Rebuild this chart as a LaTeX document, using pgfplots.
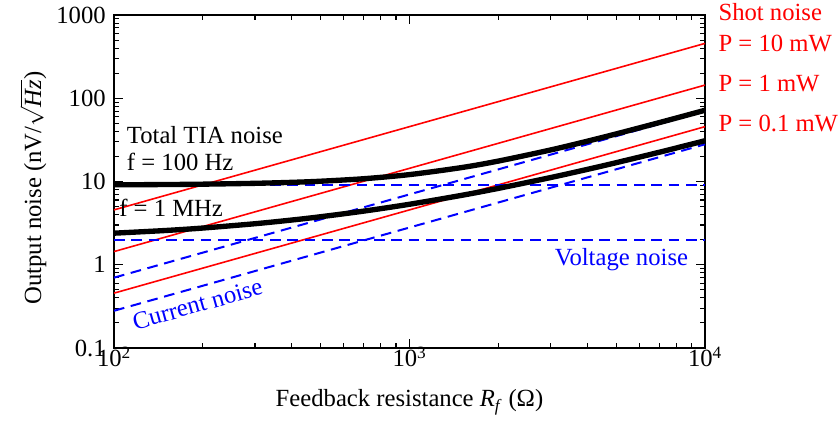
\documentclass[border=0pt]{standalone}
\usepackage{fontspec}
\setmainfont{Liberation Serif}
\usepackage{pgfplots}
\pgfplotsset{compat=1.18}

\newcommand{\lblfont}{\fontsize{18.5}{22}\selectfont}

% Noise budget of a transimpedance amplifier versus feedback resistance
\pgfplotstableread{
R      total100   total1M
100    9.118      2.395
150    9.197      2.581
200    9.288      2.761
300    9.507      3.110
400    9.771      3.447
500    10.076     3.774
700    10.798     4.408
1000   12.106     5.329
1500   14.700     6.818
2000   17.610     8.275
3000   23.910     11.146
4000   30.516     13.989
5000   37.267     16.817
7000   50.970     22.452
10000  71.740     30.880
}\totalnoise

\begin{document}
\lblfont
\begin{tikzpicture}
\begin{axis}[
  name=ax,
  scale only axis,
  width=443.25pt, height=249.75pt,
  xmode=log, ymode=log,
  xmin=100, xmax=10000, ymin=0.1, ymax=1000,
  xtick={100,1000,10000},
  xticklabels={10\textsuperscript{2},10\textsuperscript{3},10\textsuperscript{4}},
  ytick={0.1,1,10,100,1000},
  yticklabels={0.1,1,10,100,1000},
  minor xtick={200,300,400,500,600,700,800,900,2000,3000,4000,5000,6000,7000,8000,9000},
  minor ytick={0.2,0.3,0.4,0.5,0.6,0.7,0.8,0.9,2,3,4,5,6,7,8,9,20,30,40,50,60,70,80,90,200,300,400,500,600,700,800,900},
  tick align=inside,
  major tick length=7pt,
  minor tick length=4pt,
  every tick/.style={black, line width=0.8pt},
  axis line style={line width=1.5pt},
  tick label style={font=\lblfont},
  xticklabel style={anchor=base, yshift=-14.25pt},
  yticklabel style={anchor=east, inner sep=0pt, xshift=-6pt},
  label style={font=\lblfont},
  xlabel={Feedback resistance \textit{R}\textsubscript{\textit{f}} (Ω)},
  ylabel={Output noise (nV/$\sqrt{\textit{Hz}}$)},
  every axis x label/.style={at={(axis description cs:0.5,0)}, anchor=base, yshift=-44.25pt},
  every axis y label/.style={at={(axis description cs:-0.137,0.48)}, rotate=90, anchor=center},
  clip=false,
]

% shot noise for three optical powers
\addplot[red, line width=1.2pt] coordinates {(100,4.56) (10000,456)};
\addplot[red, line width=1.2pt] coordinates {(100,1.44) (10000,144)};
\addplot[red, line width=1.2pt] coordinates {(100,0.456) (10000,45.6)};

% amplifier voltage noise
\addplot[blue, line width=1.5pt, dash pattern=on 8pt off 5pt] coordinates {(100,9) (10000,9)};
\addplot[blue, line width=1.5pt, dash pattern=on 8pt off 5pt] coordinates {(100,2) (10000,2)};

% amplifier current noise
\addplot[blue, line width=1.5pt, dash pattern=on 8pt off 5pt] coordinates {(100,0.7) (10000,70)};
\addplot[blue, line width=1.5pt, dash pattern=on 8pt off 5pt] coordinates {(100,0.28) (10000,28)};

% total noise
\addplot[black, line width=4pt, smooth] table[x=R, y=total100] {\totalnoise};
\addplot[black, line width=4pt, smooth] table[x=R, y=total1M] {\totalnoise};

\node[anchor=base west, inner sep=0pt] at (axis cs:110.4,29.0) {Total TIA noise};
\node[anchor=base west, inner sep=0pt] at (axis cs:110.4,13.7) {f = 100 Hz};
\node[anchor=base west, inner sep=0pt] at (axis cs:104,3.75) {f = 1 MHz};

\node[blue, anchor=base, inner sep=0pt, rotate=15.7] at (axis cs:195,0.2706) {Current noise};
\node[blue, anchor=base east, inner sep=0pt] at (axis cs:8780,0.993) {Voltage noise};

\node[red, anchor=base west, inner sep=0pt] at (axis cs:11090,854) {Shot noise};
\node[red, anchor=base west, inner sep=0pt] at (axis cs:11090,362.4) {P = 10 mW};
\node[red, anchor=base west, inner sep=0pt] at (axis cs:11090,119.8) {P = 1 mW};
\node[red, anchor=base west, inner sep=0pt] at (axis cs:11090,39.7) {P = 0.1 mW};
\end{axis}
\pgfresetboundingbox
\useasboundingbox ([shift={(-85.5pt,-57pt)}]ax.south west) rectangle ([shift={(100.5pt,11.25pt)}]ax.north east);
\end{tikzpicture}
\end{document}
